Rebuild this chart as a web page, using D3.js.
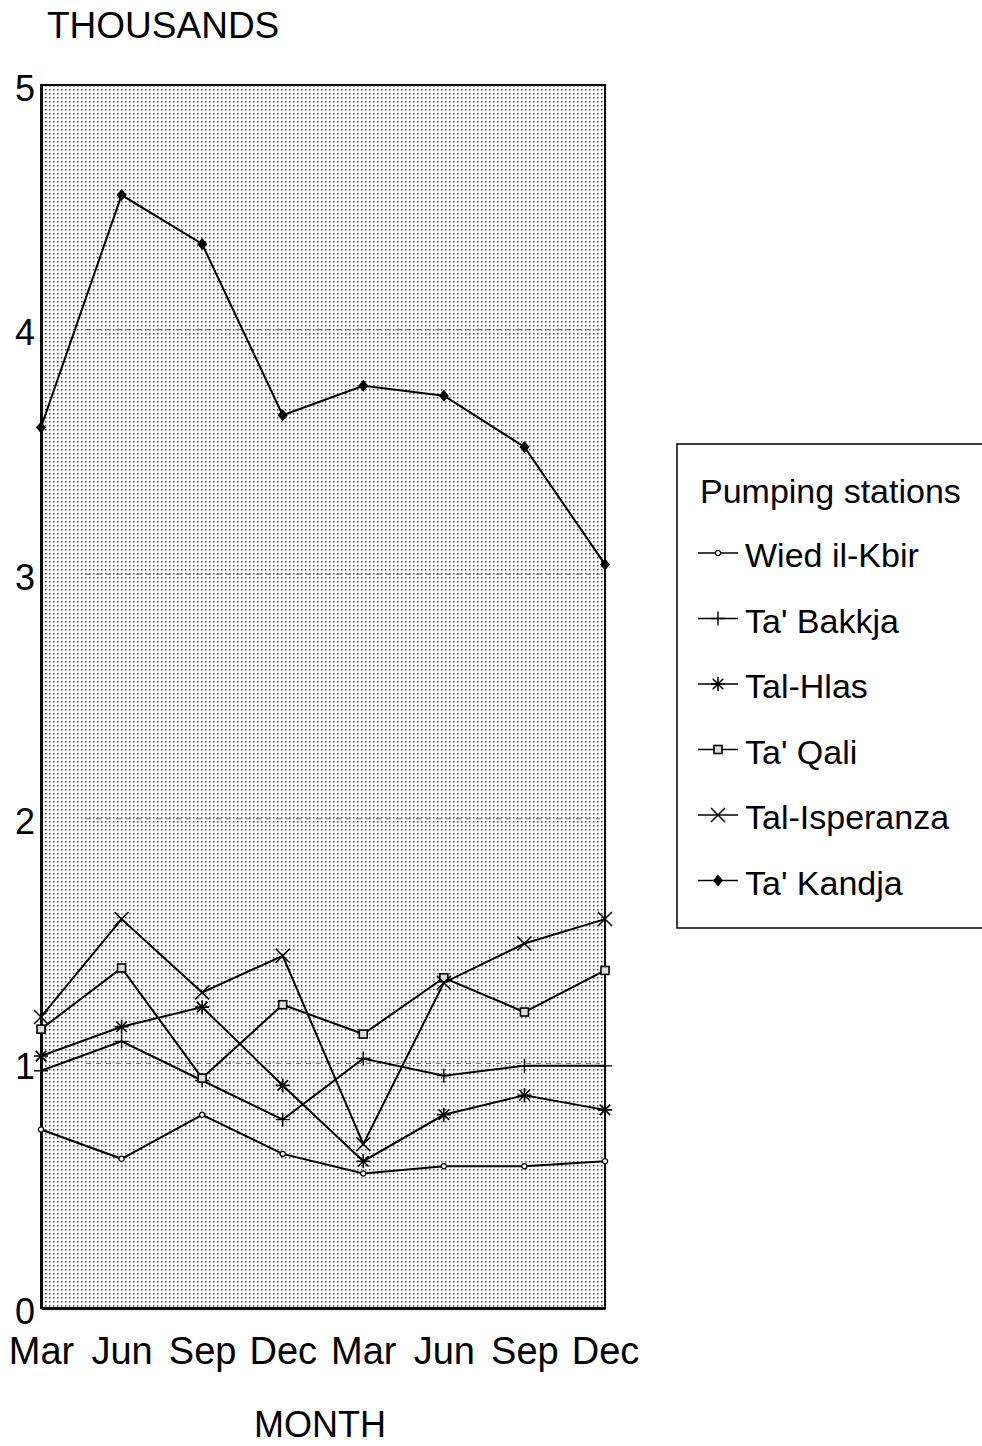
<!DOCTYPE html>
<html>
<head>
<meta charset="utf-8">
<script src="https://cdn.jsdelivr.net/npm/d3@7"></script>
<style>
  body { margin: 0; background: #fff; }
  svg { display: block; font-family: "Liberation Sans", Arial, sans-serif; }
</style>
</head>
<body>
<div id="chart"></div>
<script>
// month labels along the x axis (two years, quarterly)
const months = ["Mar", "Jun", "Sep", "Dec", "Mar", "Jun", "Sep", "Dec"];
const yTicks = [0, 1, 2, 3, 4, 5];

// values in thousands
const wiedIlKbir   = [0.73, 0.61, 0.79, 0.63, 0.55, 0.58, 0.58, 0.60];
const taBakkja     = [0.97, 1.09, 0.93, 0.77, 1.02, 0.95, 0.99, 0.99];
const talHlas      = [1.03, 1.15, 1.23, 0.91, 0.60, 0.79, 0.87, 0.81];
const taQali       = [1.14, 1.39, 0.94, 1.24, 1.12, 1.35, 1.21, 1.38];
const talIsperanza = [1.19, 1.59, 1.29, 1.44, 0.67, 1.33, 1.49, 1.59];
const taKandja     = [3.60, 4.55, 4.35, 3.65, 3.77, 3.73, 3.52, 3.04];

const seriesNames = ["Wied il-Kbir", "Ta' Bakkja", "Tal-Hlas", "Ta' Qali", "Tal-Isperanza", "Ta' Kandja"];
const seriesValues = [wiedIlKbir, taBakkja, talHlas, taQali, talIsperanza, taKandja];
const seriesMarks = ["circle", "plus", "star", "square", "cross", "diamond"];

const width = 982,
      height = 1446;

const plotL = 41, plotR = 605, plotT = 85, plotB = 1308;

const svg = d3.select("#chart").append("svg")
    .attr("width", width)
    .attr("height", height);

/** stippled background like the printed original */
svg.append("defs").append("pattern")
    .attr("id", "dots")
    .attr("width", 4)
    .attr("height", 4)
    .attr("patternUnits", "userSpaceOnUse")
  .append("rect")
    .attr("x", 1)
    .attr("y", 1)
    .attr("width", 1.6)
    .attr("height", 1.6)
    .attr("fill", "#555");

const x = d3.scalePoint()
    .domain(d3.range(months.length))
    .range([plotL, plotR]);

const y = d3.scaleLinear()
    .domain([0, 5])
    .range([plotB, plotT]);

svg.append("rect")
    .attr("x", plotL)
    .attr("y", plotT)
    .attr("width", plotR - plotL)
    .attr("height", plotB - plotT)
    .attr("fill", "url(#dots)");

// dashed grid
svg.append("g")
    .selectAll("line")
    .data(yTicks.filter(t => t > 0 && t < 5))
    .enter().append("line")
    .attr("x1", plotL + 45)
    .attr("x2", plotR - 5)
    .attr("y1", d => y(d))
    .attr("y2", d => y(d))
    .attr("stroke", "#777")
    .attr("stroke-width", 1)
    .attr("stroke-dasharray", "5,5");

// frame
svg.append("rect")
    .attr("x", plotL)
    .attr("y", plotT)
    .attr("width", plotR - plotL)
    .attr("height", plotB - plotT)
    .attr("fill", "none")
    .attr("stroke", "#000")
    .attr("stroke-width", 2);

const yAxis = svg.append("g")
    .attr("transform", `translate(${plotL},0)`)
    .call(d3.axisLeft(y).tickValues(yTicks).tickSize(0).tickPadding(6).tickFormat(d3.format("d")));
yAxis.select(".domain").attr("stroke", "#000").attr("stroke-width", 3);
yAxis.selectAll("text")
    .attr("font-size", 36)
    .attr("dy", "0.42em")
    .attr("fill", "#000");

const xAxis = svg.append("g")
    .attr("transform", `translate(0,${plotB})`)
    .call(d3.axisBottom(x).tickSize(0).tickPadding(29).tickFormat(i => months[i]));
xAxis.select(".domain").attr("stroke", "#000").attr("stroke-width", 3);
xAxis.selectAll("text")
    .attr("font-size", 38)
    .attr("fill", "#000");

svg.append("text")
    .attr("x", 47)
    .attr("y", 38)
    .attr("font-size", 37)
    .text("THOUSANDS");

svg.append("text")
    .attr("x", 320)
    .attr("y", 1437)
    .attr("text-anchor", "middle")
    .attr("font-size", 36)
    .text("MONTH");

/** marker drawing, one shape per station */
const drawMark = (g, kind) => {
    const s = 7;
    if (kind === "circle") {
        g.append("circle").attr("r", 2.6).attr("fill", "#fff").attr("stroke", "#000").attr("stroke-width", 1.3);
    } else if (kind === "plus") {
        g.append("path").attr("d", `M${-s},0H${s}M0,${-s}V${s}`).attr("stroke", "#000").attr("stroke-width", 1.4);
    } else if (kind === "star") {
        g.append("path")
            .attr("d", `M${-s},0H${s}M0,${-s}V${s}M${-s*0.75},${-s*0.75}L${s*0.75},${s*0.75}M${-s*0.75},${s*0.75}L${s*0.75},${-s*0.75}`)
            .attr("stroke", "#000").attr("stroke-width", 1.6);
    } else if (kind === "square") {
        g.append("rect").attr("x", -4).attr("y", -4).attr("width", 8).attr("height", 8)
            .attr("fill", "#ddd").attr("stroke", "#000").attr("stroke-width", 1.6);
    } else if (kind === "cross") {
        g.append("path").attr("d", `M${-s},${-s}L${s},${s}M${-s},${s}L${s},${-s}`).attr("stroke", "#000").attr("stroke-width", 1.5);
    } else if (kind === "diamond") {
        g.append("path").attr("d", `M0,${-6}L5,0L0,6L-5,0Z`).attr("fill", "#000");
    }
};

const line = d3.line()
    .x((d, i) => x(i))
    .y(d => y(d));

seriesValues.forEach((vals, k) => {
    const g = svg.append("g");
    g.append("path")
        .attr("d", line(vals))
        .attr("fill", "none")
        .attr("stroke", "#000")
        .attr("stroke-width", 2);
    g.selectAll(".mark")
        .data(vals)
        .enter().append("g")
        .attr("class", "mark")
        .attr("transform", (d, i) => `translate(${x(i)},${y(d)})`)
        .each(function() { drawMark(d3.select(this), seriesMarks[k]); });
});

// legend
const legend = svg.append("g");
legend.append("rect")
    .attr("x", 677)
    .attr("y", 444)
    .attr("width", 310)
    .attr("height", 484)
    .attr("fill", "#fff")
    .attr("stroke", "#000")
    .attr("stroke-width", 1.5);

legend.append("text")
    .attr("x", 700)
    .attr("y", 503)
    .attr("font-size", 34)
    .text("Pumping stations");

const item = legend.selectAll(".item")
    .data(seriesNames)
    .enter().append("g")
    .attr("class", "item")
    .attr("transform", (d, i) => `translate(0,${553 + i * 65.5})`);

item.append("line")
    .attr("x1", 698)
    .attr("x2", 738)
    .attr("stroke", "#000")
    .attr("stroke-width", 1.5);

item.append("g")
    .attr("transform", "translate(718,0)")
    .each(function(d, i) { drawMark(d3.select(this), seriesMarks[i]); });

item.append("text")
    .attr("x", 745)
    .attr("y", 14)
    .attr("font-size", 34)
    .text(d => d);
</script>
</body>
</html>
